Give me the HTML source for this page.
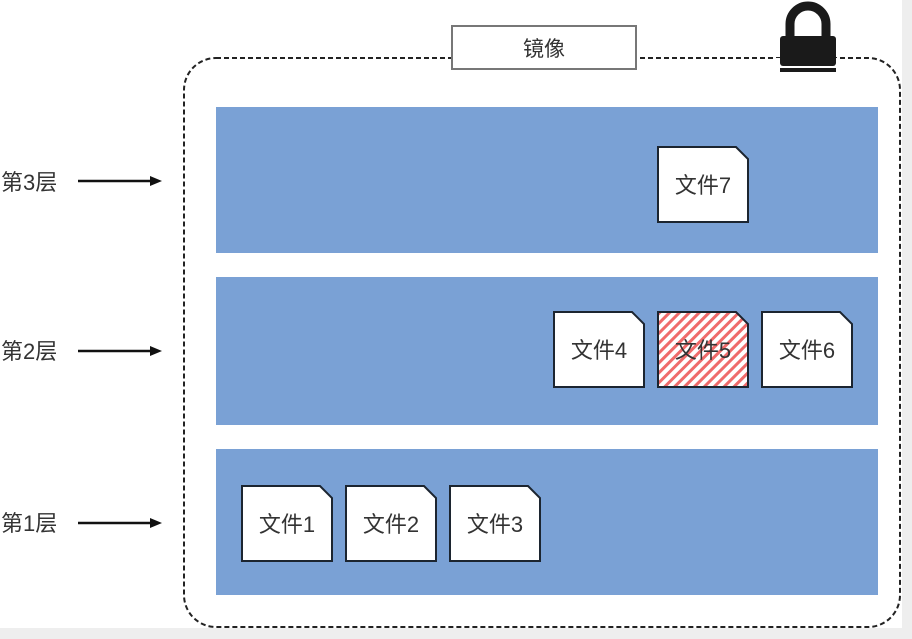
<!DOCTYPE html>
<html><head><meta charset="utf-8"><style>
html,body{margin:0;padding:0;background:#fff;}
svg{display:block;}
text{font-family:"Liberation Sans","Noto Sans CJK SC",sans-serif;}
</style></head><body>
<svg width="912" height="639" viewBox="0 0 912 639" xmlns="http://www.w3.org/2000/svg">
<defs>
<pattern id="hatch" width="7" height="7" patternUnits="userSpaceOnUse" patternTransform="rotate(45)">
<rect width="7" height="7" fill="#fff"/>
<rect width="3" height="7" fill="#ef6b6b"/>
</pattern>
</defs>
<rect x="0" y="0" width="912" height="639" fill="#fff"/>
<rect x="0" y="628" width="912" height="11" fill="#eeeeee"/>
<rect x="902" y="0" width="10" height="639" fill="#eeeeee"/>
<rect x="184" y="58" width="716" height="569" rx="32" fill="#fff" stroke="#222" stroke-width="2" stroke-dasharray="5,3"/>
<rect x="452" y="26" width="184" height="43" fill="#fff" stroke="#777" stroke-width="2"/>
<text x="544" y="56" font-size="21" text-anchor="middle" fill="#333">镜像</text>
<rect x="776" y="58" width="64" height="16" fill="#fff"/>
<path d="M790 38 V24 a18 18 0 0 1 36 0 V38" fill="none" stroke="#1a1a1a" stroke-width="9"/>
<rect x="780" y="36" width="56" height="30" rx="3" fill="#1a1a1a"/>
<rect x="780" y="68" width="56" height="4" fill="#1a1a1a"/>
<rect x="216" y="107" width="662" height="146" fill="#7aa1d5"/>
<rect x="216" y="277" width="662" height="148" fill="#7aa1d5"/>
<rect x="216" y="449" width="662" height="146" fill="#7aa1d5"/>
<g stroke="#1c2530" stroke-width="2" fill="#fff">
<path d="M658 147 H736 L748 159 V222 H658 Z"/>
<path d="M554 312 H632 L644 324 V387 H554 Z"/>
<path d="M658 312 H736 L748 324 V387 H658 Z" fill="url(#hatch)"/>
<path d="M762 312 H840 L852 324 V387 H762 Z"/>
<path d="M242 486 H320 L332 498 V561 H242 Z"/>
<path d="M346 486 H424 L436 498 V561 H346 Z"/>
<path d="M450 486 H528 L540 498 V561 H450 Z"/>
</g>
<g font-size="22" fill="#333" text-anchor="middle">
<text x="703" y="193">文件7</text>
<text x="599" y="358">文件4</text>
<text x="703" y="358">文件5</text>
<text x="807" y="358">文件6</text>
<text x="287" y="532">文件1</text>
<text x="391" y="532">文件2</text>
<text x="495" y="532">文件3</text>
</g>
<g font-size="22" fill="#333">
<text x="1" y="190">第3层</text>
<text x="1" y="359">第2层</text>
<text x="1" y="531">第1层</text>
</g>
<g stroke="#111" stroke-width="2.5">
<line x1="78" y1="181" x2="152" y2="181"/>
<line x1="78" y1="351" x2="152" y2="351"/>
<line x1="78" y1="523" x2="152" y2="523"/>
</g>
<g fill="#111">
<path d="M162 181 L150 176 V186 Z"/>
<path d="M162 351 L150 346 V356 Z"/>
<path d="M162 523 L150 518 V528 Z"/>
</g>
</svg>
</body></html>
